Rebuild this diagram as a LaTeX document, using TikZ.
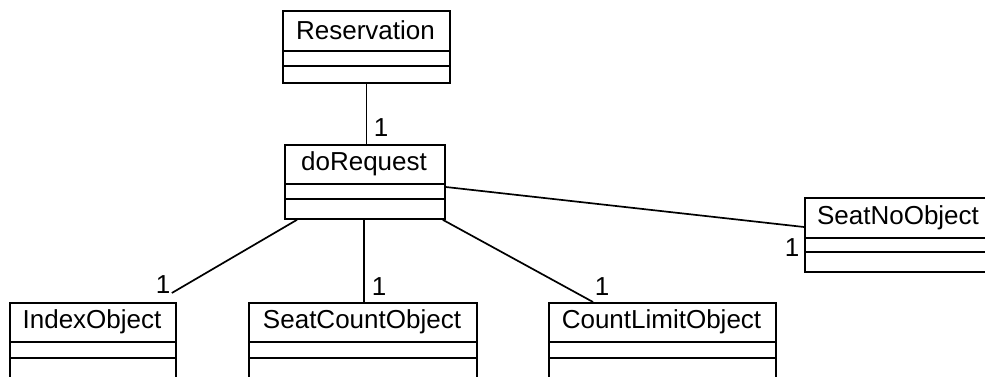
\documentclass[tikz,border=0pt]{standalone}
\usepackage{fontspec}
\setmainfont{Liberation Sans}
\usetikzlibrary{calc}

\tikzset{
  umlbox/.style={draw, line width=1.8pt, rectangle, inner sep=0pt, anchor=north west},
  conn/.style={line width=1.7pt},
  classname/.style={font=\fontsize{26}{31}\selectfont, inner sep=0pt},
  mult/.style={font=\fontsize{26}{31}\selectfont, inner sep=0pt},
}

% #1 node name, #2 left, #3 top, #4 right, #5 first divider, #6 second divider, #7 bottom, #8 class name
\newcommand\umlclass[8]{%
  \node[umlbox, minimum width={(#4-#2)*1pt}, minimum height={(#7-#3)*1pt}] (#1) at (#2,#3) {};
  \node[classname] (#1-name) at ($(#2,#3)!0.5!(#4,#5)$) {#8};
  \draw[line width=1.8pt] (#2,#5) -- (#4,#5);
  \draw[line width=1.8pt] (#2,#6) -- (#4,#6);
}

\begin{document}
\begin{tikzpicture}[x=1pt, y=-1pt]
  \useasboundingbox (0,0) rectangle (985,377);

  \umlclass{res}{282}{10}{449}{51}{66}{82}{Reservation}
  \umlclass{req}{284}{144}{444}{184}{199}{218}{doRequest}
  \umlclass{idx}{9}{302}{175}{342}{358}{381}{IndexObject}
  \umlclass{sc}{248}{302}{476}{342}{358}{381}{SeatCountObject}
  \umlclass{cl}{548}{302}{775}{342}{358}{381}{CountLimitObject}
  \umlclass{sn}{804}{197}{992}{238}{252}{271}{SeatNoObject}

  % association end points on doRequest
  \coordinate (reqL) at ($(req.south west)+(13,0)$);
  \coordinate (reqM) at ($(req.south west)+(80,0)$);
  \coordinate (reqR) at ($(req.south east)+(-3,0)$);
  \coordinate (reqE) at ($(req.north east)+(0,43)$);
  \coordinate (idxend) at ($(idx.north east)+(-5,-9)$);

  % associations
  \draw[conn] (res.south) -- (res.south |- req.north);
  \draw[conn] (reqL) -- (idxend);
  \draw[conn] (reqM) -- (reqM |- sc.north);
  \draw[conn] (reqR) -- ($(cl.north west)+(45,0)$);
  \draw[conn] (reqE) -- ($(sn.north west)+(0,30)$);

  % multiplicities
  \node[mult] (m1) at (381,128) {1};
  \node[mult] (m2) at (163,285) {1};
  \node[mult] (m3) at (379,287) {1};
  \node[mult] (m4) at (602,287) {1};
  \node[mult] (m5) at (792,248) {1};
\end{tikzpicture}
\end{document}
